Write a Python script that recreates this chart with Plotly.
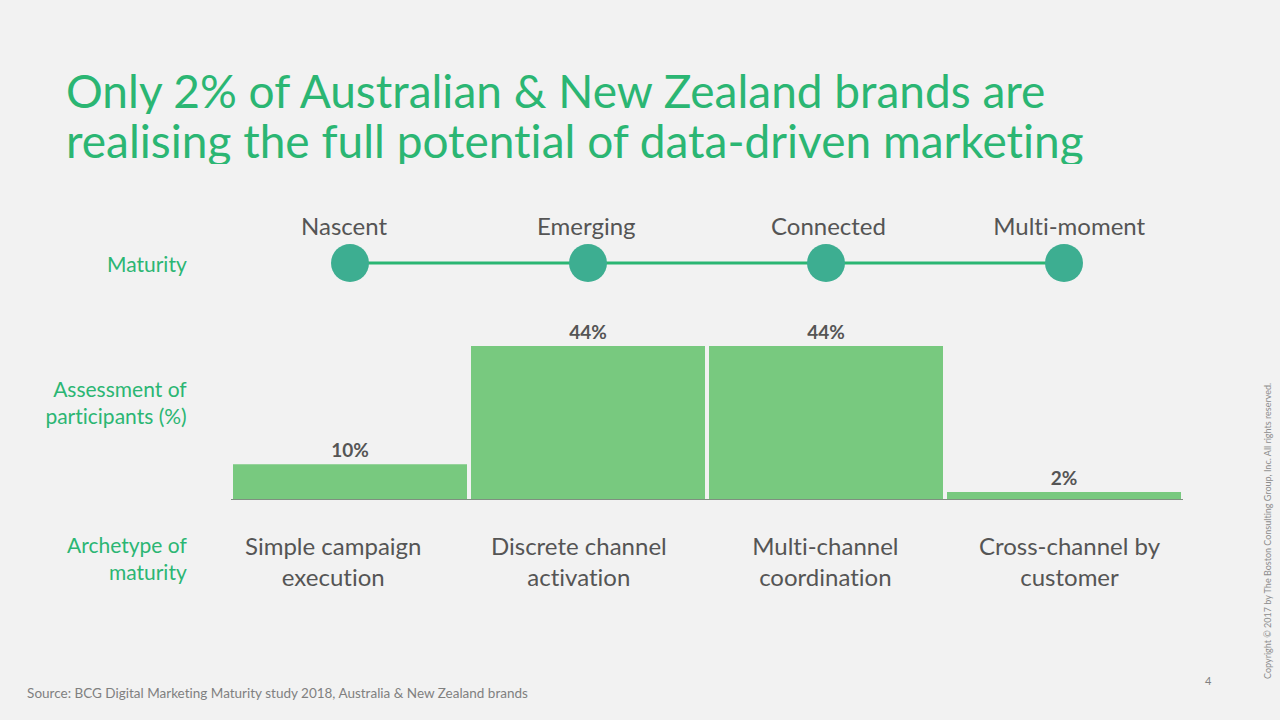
import plotly.graph_objects as go

# data
stages = ["Nascent", "Emerging", "Connected", "Multi-moment"]
archetypes = ["Simple campaign<br>execution", "Discrete channel<br>activation",
              "Multi-channel<br>coordination", "Cross-channel by<br>customer"]
share = [10, 44, 44, 2]

title_lines = ["Only 2% of Australian & New Zealand brands are",
               "realising the full potential of data-driven marketing"]
source = "Source: BCG Digital Marketing Maturity study 2018, Australia & New Zealand brands"
copyright_txt = "Copyright © 2017 by The Boston Consulting Group, Inc. All rights reserved."

GREEN = "#2BB673"
TEAL = "#3DAE91"
BAR = "#78C97F"
DARK = "#555555"
FONT = "Lato"

x = list(range(len(stages)))

fig = go.Figure()

# bars
fig.add_trace(go.Bar(
    x=x, y=share,
    marker=dict(color=BAR, line=dict(width=0)),
    text=[f"{v}%" for v in share], textposition="outside",
    textfont=dict(family=FONT, size=19, color=DARK),
    texttemplate="<b>%{text}</b>",
    cliponaxis=False,
    xaxis="x", yaxis="y",
))

# maturity line with dots
fig.add_trace(go.Scatter(
    x=x, y=[0.5] * len(x), mode="lines+markers",
    line=dict(color=GREEN, width=3),
    marker=dict(size=38, color=TEAL),
    xaxis="x", yaxis="y2", cliponaxis=False,
))

stage_shift = [-6, -2, 2, 5]
for i, s in enumerate(stages):
    fig.add_annotation(x=i, y=0.5, xref="x", yref="y2", yshift=38, xshift=stage_shift[i], text=s,
                       showarrow=False, font=dict(family=FONT, size=24, color=DARK))

arch_shift = [-17, -9, -1, 6]
for i, a in enumerate(archetypes):
    fig.add_annotation(x=i, y=0, xref="x", yref="y", yshift=-62, xshift=arch_shift[i], text=a,
                       showarrow=False, font=dict(family=FONT, size=24, color=DARK))

# row labels on the left
row_labels = [("Maturity", 263), ("Assessment of<br>participants (%)", 402), ("Archetype of<br>maturity", 558)]
for txt, ypx in row_labels:
    fig.add_annotation(x=189 / 1280, y=1 - ypx / 720, xref="paper", yref="paper", text=txt,
                       xanchor="right", yanchor="middle", align="right", showarrow=False,
                       font=dict(family=FONT, size=21, color=GREEN))

# title, two lines placed separately for tighter line spacing
for line, ypx in zip(title_lines, [90, 140]):
    fig.add_annotation(x=64 / 1280, y=1 - ypx / 720, xref="paper", yref="paper", text=line,
                       xanchor="left", yanchor="middle", align="left", showarrow=False,
                       height=48, valign="middle",
                       font=dict(family=FONT, size=46, color=GREEN))

# footer
fig.add_annotation(x=25 / 1280, y=1 - 693 / 720, xref="paper", yref="paper", text=source,
                   xanchor="left", yanchor="middle", showarrow=False,
                   font=dict(family=FONT, size=13.5, color="#808080"))
fig.add_annotation(x=1208 / 1280, y=1 - 680 / 720, xref="paper", yref="paper", text="4",
                   xanchor="center", yanchor="middle", showarrow=False,
                   font=dict(family=FONT, size=11, color="#808080"))
fig.add_annotation(x=1267 / 1280, y=1 - 531 / 720, xref="paper", yref="paper", text=copyright_txt,
                   textangle=-90, xanchor="center", yanchor="middle", showarrow=False,
                   font=dict(family=FONT, size=9, color="#8C8C8C"))

fig.update_layout(
    width=1280, height=720,
    margin=dict(l=0, r=0, t=0, b=0),
    paper_bgcolor="#F2F2F2", plot_bgcolor="#F2F2F2",
    showlegend=False, bargap=4 / 238,
    xaxis=dict(domain=[231 / 1280, 1183 / 1280], range=[-0.5, 3.5],
               showticklabels=False, showgrid=False, zeroline=False,
               showline=False, ticks=""),
    yaxis=dict(domain=[1 - 499 / 720, 1 - 325 / 720], range=[0, 50],
               showticklabels=False, showgrid=False, zeroline=True,
               zerolinecolor="#7F9080", zerolinewidth=1),
    yaxis2=dict(domain=[1 - 283 / 720, 1 - 243 / 720], range=[0, 1], anchor="x",
                showticklabels=False, showgrid=False, zeroline=False),
)

page_css = ("document.head.insertAdjacentHTML('beforeend',"
            "'<style>body{margin:0;background:#F2F2F2}"
            "text{font-variant-ligatures:none !important;"
            "font-feature-settings:\"liga\" 0,\"clig\" 0 !important}</style>');")
fig.write_html("out.html", post_script=page_css, config={"displayModeBar": False})
